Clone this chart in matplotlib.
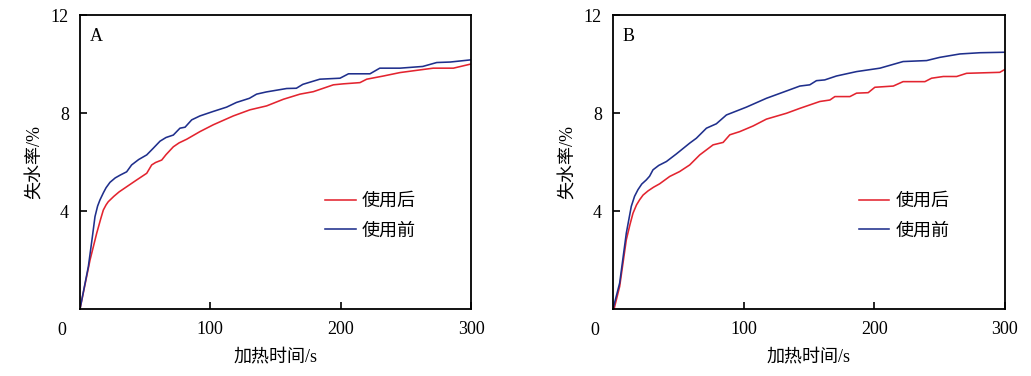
import numpy as np
import matplotlib
matplotlib.use("Agg")
import matplotlib.pyplot as plt

plt.rcParams['font.family'] = ['Liberation Serif', 'Noto Sans CJK SC']

# panel A
tA_before = [0, 6.4, 9.5, 11.5, 13.5, 15.3, 18, 20, 23, 27, 31, 35.8, 39.6, 45, 51.2, 56,
             61.4, 66, 71.6, 76.7, 80.6, 85.7, 92, 102,
             112.5, 120, 130, 135.5, 143, 158.6, 166, 171, 184, 199.5, 206, 222.5, 230,
             245.5, 263, 273.7, 284, 300]
vA_before = [0, 1.73, 2.95, 3.77, 4.2, 4.45, 4.75, 4.95, 5.17, 5.35, 5.47, 5.6, 5.88, 6.1, 6.29, 6.55,
             6.85, 7.0, 7.1, 7.38, 7.42, 7.72, 7.88, 8.06,
             8.24, 8.43, 8.6, 8.77, 8.86, 9.0, 9.01, 9.17, 9.38, 9.42, 9.6, 9.6, 9.83,
             9.83, 9.9, 10.06, 10.08, 10.17]
tA_after = [0, 7.7, 12.8, 16, 17.9, 20, 21.7, 26, 30, 35.8, 43, 51.2, 55, 58, 62.7, 66, 71.6,
            76, 81.9, 92, 102.3, 117.6,
            130.4, 143.2, 156, 168.8, 179, 194.4, 202, 214.8, 220, 232.8, 245.5, 261, 271,
            286.5, 300]
vA_after = [0, 2.0, 3.09, 3.7, 4.04, 4.25, 4.38, 4.6, 4.78, 4.99, 5.25, 5.54, 5.88, 5.98, 6.08, 6.3, 6.62,
            6.78, 6.93, 7.24, 7.52, 7.88,
            8.13, 8.29, 8.56, 8.77, 8.87, 9.15, 9.19, 9.24, 9.38, 9.51, 9.65, 9.76, 9.83,
            9.83, 10.0]

# panel B
tB_before = [0, 5.1, 10.2, 14, 16.5, 19.1, 22, 25.5, 28, 30.6, 35, 40.9, 48.5, 58.7, 63.8,
             71.5, 79.1, 86.8,
             102.1, 117.4, 132.8, 143, 150.6, 155.7, 162, 171, 186.4, 204.3, 222, 240, 250,
             265.5, 280.9, 300]
vB_before = [0, 1.06, 3.1, 4.19, 4.6, 4.87, 5.1, 5.27, 5.42, 5.68, 5.86, 6.02, 6.33, 6.77, 6.97,
             7.38, 7.56, 7.92,
             8.24, 8.6, 8.9, 9.1, 9.15, 9.32, 9.35, 9.51, 9.69, 9.83, 10.1, 10.14, 10.27,
             10.41, 10.46, 10.48]
tB_after = [0.8, 5.1, 10.2, 13, 15.3, 18, 20.4, 23, 26.8, 31, 35.7, 43.4, 51, 58.7, 66.4, 76.6,
            84.3, 89.4,
            97, 107.2, 117.4, 132.8, 143, 158.3, 166, 169.8, 181.3, 186.4, 195.3, 200.4,
            214.5, 222, 238.7, 243.8, 252.8, 263, 270.6, 296, 300]
vB_after = [0, 0.92, 2.83, 3.45, 3.91, 4.25, 4.46, 4.65, 4.82, 4.97, 5.11, 5.41, 5.61, 5.88, 6.29, 6.7,
            6.8, 7.11,
            7.24, 7.47, 7.75, 7.99, 8.19, 8.47, 8.53, 8.67, 8.67, 8.81, 8.83, 9.05,
            9.1, 9.28, 9.28, 9.42, 9.49, 9.49, 9.62, 9.66, 9.78]

panels = [("A", tA_after, vA_after, tA_before, vA_before),
          ("B", tB_after, vB_after, tB_before, vB_before)]

RED = "#e3242f"
BLUE = "#1f2f8c"

W, H = 1031, 376
fig = plt.figure(figsize=(W / 100, H / 100), dpi=100)
boxes = [(80, 471), (613, 1005)]
top, bot = 15, 309

for (lab, ta, va, tb, vb), (l, r) in zip(panels, boxes):
    ax = fig.add_axes([l / W, 1 - bot / H, (r - l) / W, (bot - top) / H])
    ax.plot(ta, va, color=RED, lw=1.15, label="使用后")
    ax.plot(tb, vb, color=BLUE, lw=1.15, label="使用前")
    ax.set_xlim(0, 300)
    ax.set_ylim(0, 12)
    ax.set_xticks([100, 200, 300])
    ax.set_yticks([4, 8, 12])
    ax.tick_params(direction="in", length=5, width=1.2, labelsize=13, pad=8)
    ax.tick_params(axis="x", pad=9)
    for s in ax.spines.values():
        s.set_linewidth(1.3)
    ax.text(-0.046, -0.045, "0", transform=ax.transAxes, fontsize=13,
            ha="center", va="top")
    ax.text(0.025, 0.955, lab, transform=ax.transAxes, fontsize=13,
            ha="left", va="top")
    ax.set_xlabel("加热时间/s", fontsize=13, labelpad=7)
    ax.set_ylabel("失水率/%", fontsize=13, labelpad=5)
    leg = ax.legend(loc="upper left", bbox_to_anchor=(0.585, 0.45), frameon=False,
                    fontsize=13, handlelength=1.7, handletextpad=0.35,
                    labelspacing=0.7)

fig.savefig("out.png", dpi=100)
